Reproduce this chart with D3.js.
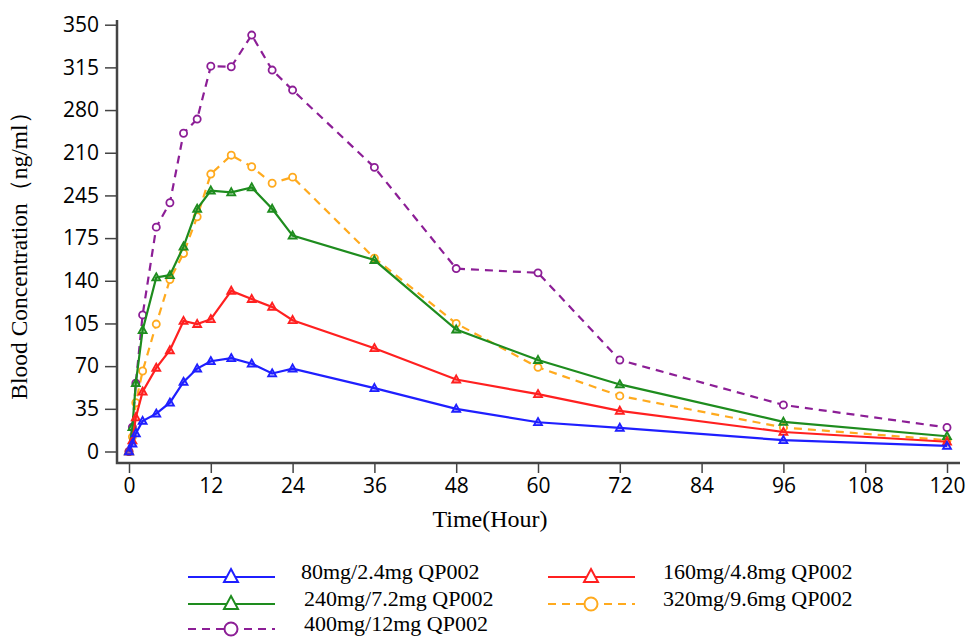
<!DOCTYPE html>
<html>
<head>
<meta charset="utf-8">
<title>Blood Concentration</title>
<script src="https://d3js.org/d3.v7.min.js"></script>
<style>
  body { margin: 0; background: #fff; }
  .tick text { font-family: "Open Sans", "Liberation Sans", sans-serif; font-size: 21px; fill: #000; }
  .serif { font-family: "Liberation Serif", "DejaVu Serif", serif; fill: #000; }
</style>
</head>
<body>
<svg id="chart" width="968" height="639"></svg>
<script>
// sampling times (hours)
let times = [0, 0.5, 1, 2, 4, 6, 8, 10, 12, 15, 18, 21, 24, 36, 48, 60, 72, 96, 120];

// concentrations
let dose80  = [0, 6.5, 14.8, 25, 31, 40, 57, 68, 74, 76.5, 72, 64, 68, 52, 35, 24, 19.4, 9.3, 4.6];
let dose160 = [0, 9, 28, 49, 68.6, 83, 107, 104.5, 108.5, 131.7, 125, 118.6, 107.7, 84.7, 59, 47, 33.3, 16, 8];
let dose240 = [0, 20, 56, 99.5, 142.7, 144.6, 168, 199, 214, 212.5, 216.5, 199, 177, 157, 100, 75, 55, 24.3, 12.5];
let dose320 = [0, 12, 40, 66, 104.5, 141, 162.4, 192.5, 227.5, 243, 233.5, 220, 225, 158.6, 105, 69, 45.6, 19.7, 9.3];
let dose400 = [0, 20, 56, 112, 184, 204, 261, 272.6, 316, 315.5, 341.5, 312.8, 296.4, 233, 150, 146.5, 75, 38.2, 19.7];

// tick labels as printed (note 245 / 210 appear swapped in the original)
let yTicks = [0, 35, 70, 105, 140, 175, 210, 245, 280, 315, 350];
let yLabels = ["0", "35", "70", "105", "140", "175", "245", "210", "280", "315", "350"];
let xTicks = [0, 12, 24, 36, 48, 60, 72, 84, 96, 108, 120];

let seriesNames = ["80mg/2.4mg QP002", "160mg/4.8mg QP002", "240mg/7.2mg QP002", "320mg/9.6mg QP002", "400mg/12mg QP002"];

let series = [
  {name: seriesNames[0], values: dose80,  color: "#1f1fff", dash: null,  marker: "tri"},
  {name: seriesNames[1], values: dose160, color: "#ff2020", dash: null,  marker: "tri"},
  {name: seriesNames[2], values: dose240, color: "#1e8c1e", dash: null,  marker: "tri"},
  {name: seriesNames[3], values: dose320, color: "#ffaa1e", dash: "8,6", marker: "circle"},
  {name: seriesNames[4], values: dose400, color: "#8c1e96", dash: "8,6", marker: "circle"}
];

let svg = d3.select("#chart");

let x = d3.scaleLinear().domain([0, 120]).range([129, 947]);
let y = d3.scaleLinear().domain([0, 350]).range([451.5, 24.7]);

let axisColor = "#444";

// axes
let xAxis = d3.axisBottom(x).tickValues(xTicks).tickSize(10).tickSizeOuter(0).tickPadding(5);
let xg = svg.append("g").attr("transform", "translate(0,463)").call(xAxis);
xg.select(".domain").remove();
xg.selectAll(".tick line").attr("stroke", axisColor).attr("stroke-width", 1.5);

let yAxis = d3.axisLeft(y).tickValues(yTicks).tickSize(12).tickSizeOuter(0).tickPadding(6)
  .tickFormat((d, i) => yLabels[i]);
let yg = svg.append("g").attr("transform", "translate(117,0)").call(yAxis);
yg.select(".domain").remove();
yg.selectAll(".tick line").attr("stroke", axisColor).attr("stroke-width", 1.5);

svg.append("path")
  .attr("d", "M117,20 L117,463 L960,463")
  .attr("fill", "none").attr("stroke", axisColor).attr("stroke-width", 2.5);

// axis titles
svg.append("text").attr("class", "serif")
  .attr("transform", "translate(27,250) rotate(-90)")
  .attr("text-anchor", "middle").style("font-size", "23.5px")
  .text("Blood Concentration（ng/ml）");

svg.append("text").attr("class", "serif")
  .attr("x", 490).attr("y", 527)
  .attr("text-anchor", "middle").style("font-size", "24px")
  .text("Time(Hour)");

// markers
function drawMarker(g, type, cx, cy, color, size) {
  if (type === "tri") {
    let s = size;
    g.append("path")
      .attr("d", `M${cx},${cy - s} L${cx + s * 0.95},${cy + s * 0.7} L${cx - s * 0.95},${cy + s * 0.7} Z`)
      .attr("fill", color).attr("fill-opacity", 0.35)
      .attr("stroke", color).attr("stroke-width", 1.8);
  } else {
    g.append("circle").attr("cx", cx).attr("cy", cy).attr("r", size * 0.85)
      .attr("fill", "#fff").attr("stroke", color).attr("stroke-width", 1.8);
  }
}

let line = d3.line().x((d, i) => x(times[i])).y(d => y(d));

// draw lines in stacking order similar to the original
let order = [3, 4, 2, 1, 0];
order.forEach(k => {
  let s = series[k];
  let g = svg.append("g");
  g.append("path")
    .datum(s.values)
    .attr("d", line)
    .attr("fill", "none")
    .attr("stroke", s.color)
    .attr("stroke-width", 2.2)
    .attr("stroke-dasharray", s.dash);
  s.values.forEach((v, i) => drawMarker(g, s.marker, x(times[i]), y(v), s.color, 4.2));
});

// legend
let legendPos = [
  {x: 188, y: 577, tx: 301}, {x: 548, y: 577, tx: 663},
  {x: 188, y: 604, tx: 304}, {x: 548, y: 604, tx: 663},
  {x: 188, y: 629, tx: 304}
];
series.forEach((s, k) => {
  let p = legendPos[k];
  let g = svg.append("g");
  g.append("line")
    .attr("x1", p.x).attr("x2", p.x + 87).attr("y1", p.y).attr("y2", p.y)
    .attr("stroke", s.color).attr("stroke-width", 2.2)
    .attr("stroke-dasharray", s.dash);
  if (s.marker === "tri") {
    g.append("path")
      .attr("d", `M${p.x + 43},${p.y - 8} L${p.x + 50},${p.y + 5} L${p.x + 36},${p.y + 5} Z`)
      .attr("fill", "#fff").attr("stroke", s.color).attr("stroke-width", 2);
  } else {
    g.append("circle").attr("cx", p.x + 43).attr("cy", p.y).attr("r", 6.5)
      .attr("fill", "#fff").attr("stroke", s.color).attr("stroke-width", 2);
  }
  g.append("text").attr("class", "serif")
    .attr("x", p.tx).attr("y", p.y + 2)
    .style("font-size", "22px")
    .text(s.name);
});
</script>
</body>
</html>
